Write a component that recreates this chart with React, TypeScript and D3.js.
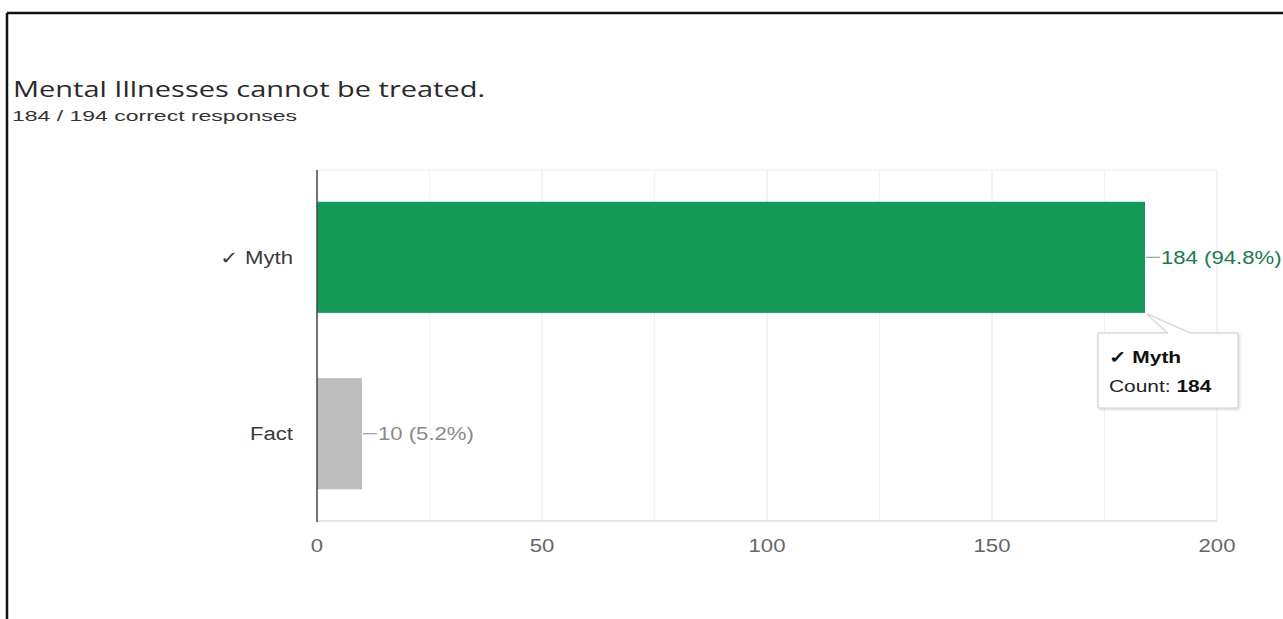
import React from "react";
import * as d3 from "d3";

const categories = ["✓ Myth", "Fact"];
const counts = [184, 10];
const percents = ["94.8%", "5.2%"];
const barColors = ["#149a57", "#bdbdbd"];
const labelColors = ["#1e7a4e", "#8a8a8a"];
const xTicks = [0, 50, 100, 150, 200];
const gridTicks = [25, 50, 75, 100, 125, 150, 175, 200];
const title = "Mental Illnesses cannot be treated.";
const subtitle = "184 / 194 correct responses";
const tooltipCategory = "✓ Myth";
const tooltipCount = 184;

const SX = 1.23;
const sans = "'Liberation Sans', Arial, sans-serif";

function T(props: {
  x: number; y: number; size?: number; anchor?: "start" | "middle" | "end";
  fill?: string; weight?: string; children: React.ReactNode; dy?: string;
}) {
  const { x, y, size = 18, anchor = "start", fill = "#333", weight = "normal", children, dy } = props;
  return (
    <g transform={`translate(${x},${y}) scale(${SX},1)`}>
      <text x={0} y={0} dy={dy} textAnchor={anchor} fontFamily={sans} fontSize={size} fill={fill} fontWeight={weight}>
        {children}
      </text>
    </g>
  );
}

export default function App() {
  const W = 1283, H = 619;
  const left = 317, right = 1217, top = 170, bottom = 521;
  const x = d3.scaleLinear().domain([0, 200]).range([left, right]);
  const y = d3.scaleBand().domain(categories).range([top, bottom]).paddingInner(0.37).paddingOuter(0.18);

  const mythX = x(counts[0]);
  const mythBottom = (y(categories[0]) ?? 0) + y.bandwidth();
  const tipX = 1098, tipY = 333, tipW = 140, tipH = 75;

  return (
    <svg width={W} height={H} style={{ position: "fixed", left: 0, top: 0, display: "block", background: "#fff" }}>
      <defs>
        <filter id="sh" x="-10%" y="-10%" width="130%" height="140%">
          <feDropShadow dx="1" dy="1" stdDeviation="1.5" floodColor="#000" floodOpacity="0.18" />
        </filter>
      </defs>
      {/* frame */}
      <line x1={7} y1={13} x2={W} y2={13} stroke="#111" strokeWidth={2.5} />
      <line x1={7} y1={13} x2={7} y2={H} stroke="#111" strokeWidth={2.5} />

      <text x={13} y={97} fontFamily="'Open Sans', 'Noto Sans', sans-serif" fontSize={22} fill="#2a2a2a"
        textLength={472} lengthAdjust="spacingAndGlyphs">{title}</text>
      <text x={12} y={121} fontFamily={sans} fontSize={15} fill="#333"
        textLength={285} lengthAdjust="spacingAndGlyphs">{subtitle}</text>

      {/* grid */}
      <line x1={left} x2={right} y1={top} y2={top} stroke="#eeeeee" strokeWidth={1} />
      {gridTicks.map((t) => (
        <line key={t} x1={x(t)} x2={x(t)} y1={top} y2={bottom} stroke={t % 50 === 0 ? "#e6e6e6" : "#f0f0f0"} strokeWidth={1} />
      ))}
      <line x1={left} x2={right} y1={bottom} y2={bottom} stroke="#dddddd" strokeWidth={1.5} />

      {/* bars */}
      {categories.map((c, i) => {
        const by = y(c) ?? 0;
        const bx = x(0);
        const bw = x(counts[i]) - bx;
        const cy = by + y.bandwidth() / 2;
        return (
          <g key={c}>
            <rect x={bx} y={by} width={bw} height={y.bandwidth()} fill={barColors[i]} />
            <line x1={x(counts[i]) + 1} x2={x(counts[i]) + 15} y1={cy} y2={cy} stroke="#9e9e9e" strokeWidth={1.2} />
            <T x={x(counts[i]) + 16} y={cy} dy="0.35em" fill={labelColors[i]}>
              {`${counts[i]} (${percents[i]})`}
            </T>
            <T x={293} y={cy} dy="0.35em" anchor="end" fill="#3a3a3a">{c}</T>
          </g>
        );
      })}

      {/* axis line */}
      <line x1={left} x2={left} y1={top} y2={bottom + 1} stroke="#444" strokeWidth={1.5} />

      {xTicks.map((t) => (
        <T key={t} x={x(t)} y={552} anchor="middle" fill="#666">{t}</T>
      ))}

      {/* tooltip */}
      <g filter="url(#sh)">
        <path
          d={`M${tipX},${tipY} L${tipX + 70},${tipY} L${mythX + 2},${mythBottom + 1} L${tipX + 92},${tipY} L${tipX + tipW},${tipY} L${tipX + tipW},${tipY + tipH} L${tipX},${tipY + tipH} Z`}
          fill="#fff"
          stroke="#cccccc"
          strokeWidth={1}
        />
      </g>
      <T x={tipX + 11} y={363} size={17} weight="bold" fill="#111">{tooltipCategory}</T>
      <T x={tipX + 11} y={392} size={17} fill="#222">
        Count: <tspan fontWeight="bold" fill="#111">{tooltipCount}</tspan>
      </T>
    </svg>
  );
}
